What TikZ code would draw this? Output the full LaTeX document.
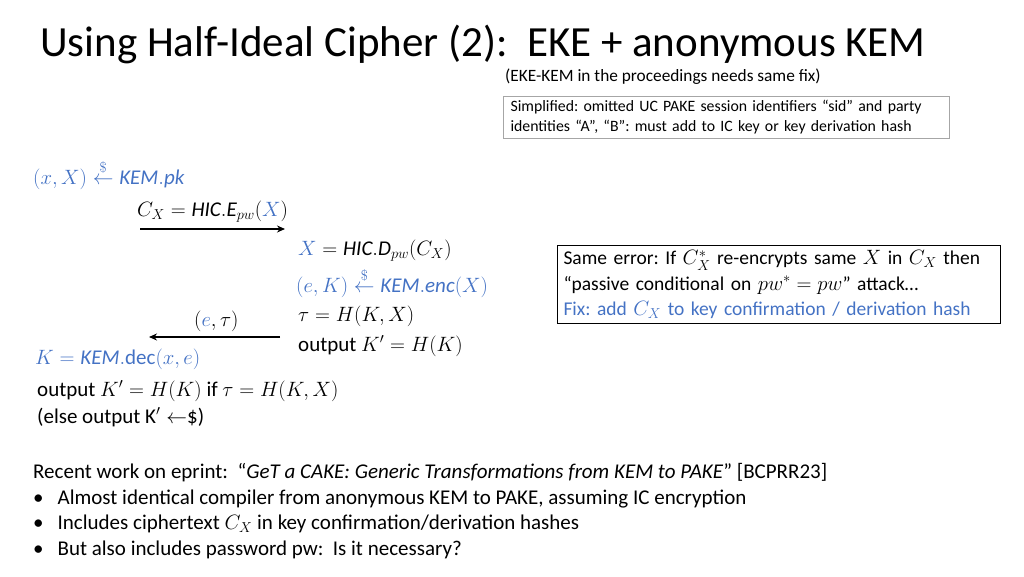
\documentclass[tikz,border=0pt]{standalone}
\usepackage{amsmath}
\usepackage{fontspec}
\setmainfont{Carlito}
\usetikzlibrary{arrows.meta}
\definecolor{bl}{HTML}{4472C4}
\frenchspacing
\begin{document}
\begin{tikzpicture}[x=1pt,y=-1pt,
  t/.style={anchor=west,inner sep=0pt,font=\fontsize{21}{25}\selectfont},
  arr/.style={line width=2pt,-{Stealth[length=8pt,width=7pt]}}]
\useasboundingbox (0,0) rectangle (1024,576);
\node[anchor=west,inner sep=0pt,font=\fontsize{43}{46}\selectfont] (title) at (40,44) {Using Half-Ideal Cipher (2):\ \ EKE + anonymous KEM};
\node[anchor=west,inner sep=0pt,font=\fontsize{17.3}{20}\selectfont] (sub) at (505,77) {(EKE-KEM in the proceedings needs same fix)};
\node[draw=gray!70,line width=1pt,anchor=north west,inner xsep=7pt,inner ysep=4pt,align=left,font=\fontsize{15.8}{20}\selectfont,text width=432pt] (simp) at (503,96) {Simplified: omitted UC PAKE session identifiers “sid” and party\\identities “A”, “B”: must add to IC key or key derivation hash};
\node[t,text=bl] (a1) at (33,175) {$(x,X)\stackrel{\$}{\leftarrow}\mathit{KEM.pk}$};
\node[t] (a2) at (137,212) {$C_X=\mathit{HIC.E}_{pw}(\textcolor{bl}{X})$};
\coordinate (m1s) at (140,229); \coordinate (m1e) at (285,229);
\draw[arr] (m1s) -- (m1e);
\node[t] (b1) at (298,251) {$\textcolor{bl}{X}=\mathit{HIC.D}_{pw}(C_X)$};
\node[t,text=bl] (b2) at (296,283) {$(e,K)\stackrel{\$}{\leftarrow}\mathit{KEM.enc}(X)$};
\node[t] (b3) at (298,316) {$\tau=H(K,X)$};
\node[t] (b4) at (298,346) {output $K'=H(K)$};
\node[t] (m2) at (194,321) {$(\textcolor{bl}{e},\tau)$};
\coordinate (m2s) at (280,337); \coordinate (m2e) at (149,337);
\draw[arr] (m2s) -- (m2e);
\node[t,text=bl] (c1) at (35,359) {$K=\mathit{KEM}.\mathrm{dec}(x,e)$};
\node[t] (c2) at (37,391) {output $K'=H(K)$ if $\tau=H(K,X)$};
\node[t] (c3) at (37,417) {(else output $\mathrm{K}'\leftarrow$\$)};
\node[draw,line width=1pt,anchor=north west,inner xsep=6pt,inner ysep=5pt,align=left,font=\fontsize{19.5}{25.5}\selectfont,text width=431pt] (err) at (557,245) {Same error: If $C_X^*$ re-encrypts same $X$ in $C_X$ then\\“passive conditional on $pw^*=pw$” attack…\\\textcolor{bl}{Fix: add $C_X$ to key confirmation / derivation hash}};
\node[t] (r1) at (33,473) {Recent work on eprint:\ \ “\textit{GeT a CAKE: Generic Transformations from KEM to PAKE}” [BCPRR23]};
\node[t] (r2) at (33,499) {•\hspace{14pt}Almost identical compiler from anonymous KEM to PAKE, assuming IC encryption};
\node[t] (r3) at (33,524) {•\hspace{14pt}Includes ciphertext $C_X$ in key confirmation/derivation hashes};
\node[t] (r4) at (33,550) {•\hspace{14pt}But also includes password pw:\ \ Is it necessary?};
\end{tikzpicture}
\end{document}
